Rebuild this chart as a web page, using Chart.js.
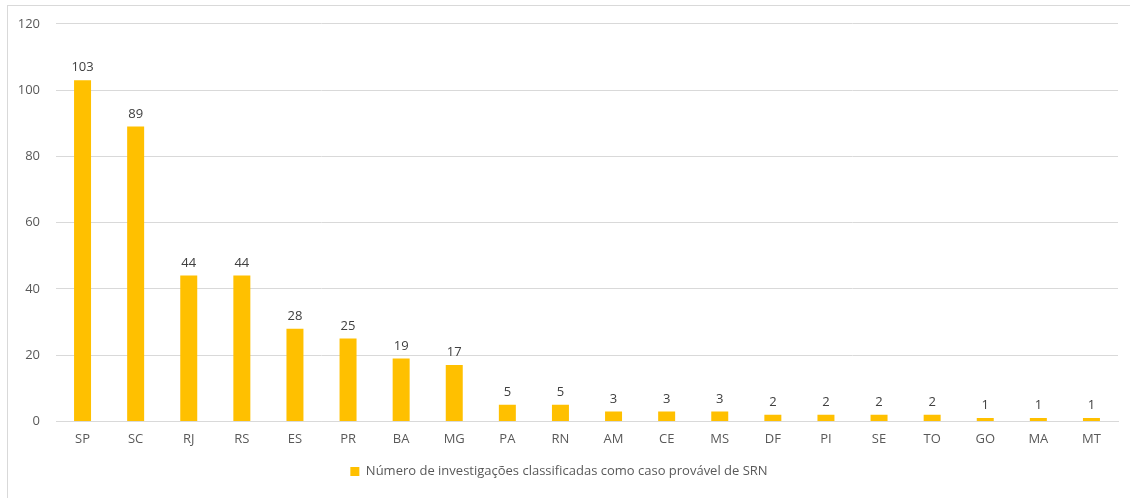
<!DOCTYPE html>
<html>
<head>
<meta charset="utf-8">
<script src="https://cdn.jsdelivr.net/npm/chart.js@4.4.1/dist/chart.umd.min.js"></script>
<style>
  html, body { margin: 0; padding: 0; background: #fff; }
  #wrap { position: relative; width: 1130px; height: 498px; }
  #frame { position: absolute; left: 7px; top: 5px; right: -2px; bottom: -2px; border: 1px solid #d9d9d9; }
  #chart { position: absolute; left: 0; top: 0; }
</style>
</head>
<body>
<div id="wrap">
  <div id="frame"></div>
  <canvas id="chart" width="1130" height="498"></canvas>
</div>
<script>
// ==========================
//  DADOS
// ==========================
const ufs = ['SP', 'SC', 'RJ', 'RS', 'ES', 'PR', 'BA', 'MG', 'PA', 'RN',
             'AM', 'CE', 'MS', 'DF', 'PI', 'SE', 'TO', 'GO', 'MA', 'MT'];
const casos = [103, 89, 44, 44, 28, 25, 19, 17, 5, 5, 3, 3, 3, 2, 2, 2, 2, 1, 1, 1];
const serieNome = 'Número de investigações classificadas como caso provável de SRN';

const FONT = "'Open Sans', 'Noto Sans', sans-serif";

// ==========================
//  RÓTULOS SOBRE AS BARRAS
// ==========================
const barLabels = {
  id: 'barLabels',
  afterDatasetsDraw(chart) {
    const ctx = chart.ctx;
    const meta = chart.getDatasetMeta(0);
    ctx.save();
    ctx.font = '13px ' + FONT;
    ctx.fillStyle = '#404040';
    ctx.textAlign = 'center';
    ctx.textBaseline = 'bottom';
    meta.data.forEach((bar, i) => {
      ctx.fillText(String(casos[i]), bar.x, bar.y - 6);
    });
    ctx.restore();
  }
};

new Chart(document.getElementById('chart'), {
  type: 'bar',
  data: {
    labels: ufs,
    datasets: [{
      label: serieNome,
      data: casos,
      backgroundColor: '#ffc000',
      borderWidth: 0,
      barPercentage: 0.32,
      categoryPercentage: 1
    }]
  },
  options: {
    responsive: false,
    animation: false,
    layout: { padding: { left: 0, right: 12, top: 18, bottom: 10 } },
    plugins: {
      tooltip: { enabled: false },
      legend: {
        position: 'bottom',
        labels: {
          boxWidth: 9,
          boxHeight: 9,
          color: '#595959',
          font: { family: FONT, size: 13 },
          padding: 12
        }
      }
    },
    scales: {
      x: {
        // espaço extra entre os rótulos das UFs e a legenda
        afterFit(scale) { scale.height += 4; },
        grid: { display: false },
        border: { display: true, color: '#d9d9d9' },
        ticks: { color: '#595959', font: { family: FONT, size: 13 }, padding: 2 }
      },
      y: {
        min: 0,
        max: 120,
        afterFit(scale) { scale.width = 56; },
        grid: { color: '#d9d9d9', drawTicks: false },
        border: { display: false },
        ticks: { stepSize: 20, color: '#595959', font: { family: FONT, size: 13 }, padding: 16 }
      }
    }
  },
  plugins: [barLabels]
});
</script>
</body>
</html>
